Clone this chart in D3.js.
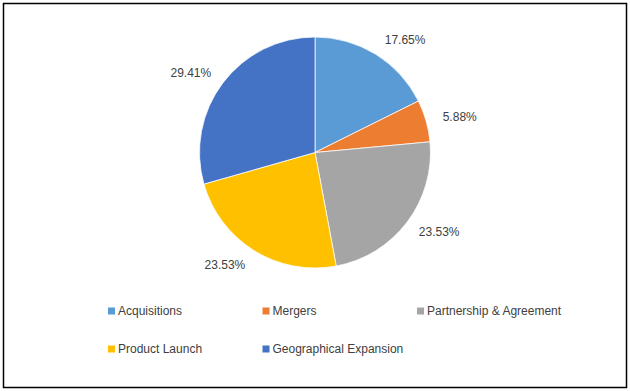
<!DOCTYPE html>
<html lang="en">
<head>
    <meta charset="UTF-8">
    <title>Pie</title>
    <script src="https://d3js.org/d3.v7.min.js"></script>
    <style>
        body { margin: 0; background: #fff; }
        text { font-family: "Liberation Sans", Arial, sans-serif; fill: #404040; }
    </style>
</head>
<body>
    <div id="chart"></div>
    <script>
        const categories = ["Acquisitions", "Mergers", "Partnership & Agreement", "Product Launch", "Geographical Expansion"];
        const values = [17.65, 5.88, 23.53, 23.53, 29.41];
        const colors = ["#5B9BD5", "#ED7D31", "#A5A5A5", "#FFC000", "#4472C4"];

        const width = 630, height = 391;
        const cx = 315, cy = 152.5, radius = 115.5;

        const svg = d3.select("#chart").append("svg")
            .attr("width", width)
            .attr("height", height);

        svg.append("rect")
            .attr("x", 3.5).attr("y", 3.5)
            .attr("width", width - 7).attr("height", height - 7)
            .attr("fill", "#fff")
            .attr("stroke", "#000")
            .attr("stroke-width", 1.5);

        const pie = d3.pie().sort(null).value(d => d);
        const arcs = pie(values);
        const arc = d3.arc().innerRadius(0).outerRadius(radius);

        const g = svg.append("g").attr("transform", `translate(${cx},${cy})`);

        g.selectAll("path")
            .data(arcs)
            .join("path")
            .attr("d", arc)
            .attr("fill", (d, i) => colors[i])
            .attr("stroke", "#fff")
            .attr("stroke-width", 0.75);

        // labels at outside end, box pushed sideways away from the pie
        g.selectAll("text.lbl")
            .data(arcs)
            .join("text")
            .attr("class", "lbl")
            .attr("font-size", 12)
            .attr("text-anchor", "middle")
            .attr("dy", "0.35em")
            .attr("transform", d => {
                const a = (d.startAngle + d.endAngle) / 2;
                const s = Math.sin(a), c = Math.cos(a);
                const x = (radius + 10) * s + Math.sign(s) * 24;
                const y = -(radius + 16.5) * c;
                return `translate(${x},${y})`;
            })
            .text(d => d.value.toFixed(2) + "%");

        // legend
        const legX = d3.scalePoint().domain([0, 1, 2]).range([108, 417]);
        const legY = d3.scalePoint().domain([0, 1]).range([311, 349]);

        const leg = svg.append("g").selectAll("g")
            .data(categories)
            .join("g")
            .attr("transform", (d, i) => `translate(${legX(i % 3)},${legY(Math.floor(i / 3))})`);

        leg.append("rect")
            .attr("x", 0).attr("y", -3.5)
            .attr("width", 7).attr("height", 7)
            .attr("fill", (d, i) => colors[i]);

        leg.append("text")
            .attr("x", 10)
            .attr("dy", "0.35em")
            .attr("font-size", 12)
            .text(d => d);
    </script>
</body>
</html>
